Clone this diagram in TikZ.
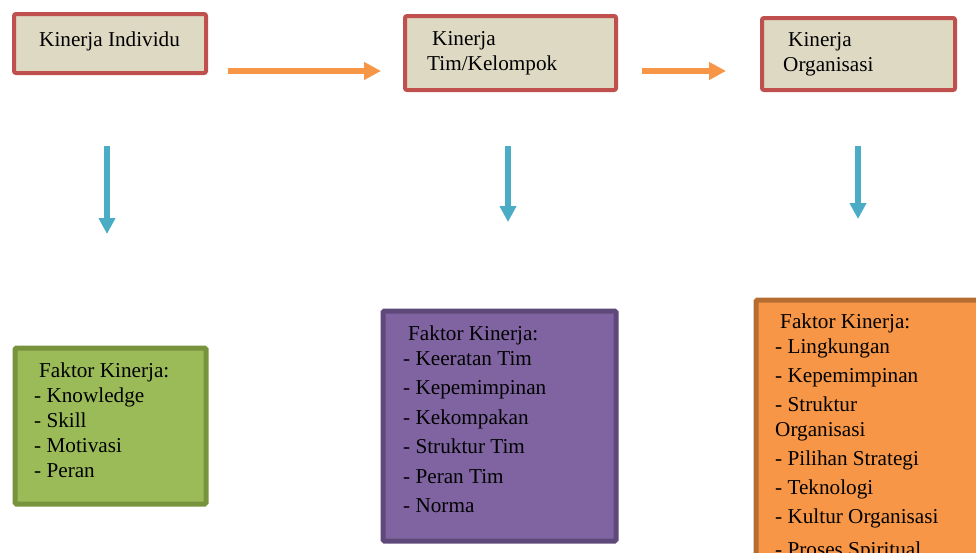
\documentclass[tikz,border=0pt]{standalone}
\usepackage{fontspec}
\setmainfont{Liberation Serif}
\usetikzlibrary{arrows.meta,positioning}

\definecolor{kotakisi}{HTML}{DDD9C3}
\definecolor{kotakgaris}{HTML}{C0504D}
\definecolor{hijau}{HTML}{9BBB59}
\definecolor{hijaugaris}{HTML}{77933C}
\definecolor{ungu}{HTML}{8064A2}
\definecolor{ungugaris}{HTML}{5F497A}
\definecolor{jingga}{HTML}{F79646}
\definecolor{jinggagaris}{HTML}{B66D31}
\definecolor{biru}{HTML}{4BACC6}

\begin{document}
\begin{tikzpicture}[x=1pt,y=-1pt,
    kinerja/.style={draw=kotakgaris,fill=kotakisi,line width=4pt,rounded corners=2pt,anchor=north west,inner sep=0pt},
    faktor/.style={line width=5pt,rounded corners=1.5pt,anchor=north west,inner sep=0pt},
    teks/.style={anchor=base west,inner sep=0pt,align=left,font=\fontsize{21.2}{25}\selectfont},
    panahj/.style={jingga,line width=6pt,-{Triangle[length=17pt,width=17pt]}},
    panahb/.style={biru,line width=6pt,-{Triangle[length=16pt,width=16pt]}}]
    \useasboundingbox (0,0) rectangle (976,552);
    \clip (0,0) rectangle (976,552);

    % Kotak kinerja
    \node[kinerja,minimum width=192pt,minimum height=59pt] (kind) at (12,12) {};
    \node[kinerja,minimum width=211pt,minimum height=74pt] (ktim) at (403,14) {};
    \node[kinerja,minimum width=193pt,minimum height=72pt] (korg) at (760,16) {};

    % teks: base = baris terakhir
    \node[teks] (tind) at (39,46) {Kinerja Individu};
    \node[teks] (ttim) at (427,70) {\hspace*{5pt}Kinerja\\Tim/Kelompok};
    \node[teks] (torg) at (783,71) {\hspace*{5pt}Kinerja\\Organisasi};

    % Panah antar kinerja
    \coordinate (j1a) at (228,71);
    \coordinate (j1b) at (381,71);
    \coordinate (j2a) at (642,71);
    \coordinate (j2b) at (726,71);
    \draw[panahj] (j1a) -- (j1b);
    \draw[panahj] (j2a) -- (j2b);

    % Panah ke faktor
    \foreach \n/\x/\y in {1/107/234,2/508/222,3/858/219} {
        \coordinate (b\n a) at (\x,146);
        \coordinate (b\n b) at (\x,\y);
        \draw[panahb] (b\n a) -- (b\n b);
    }

    % Kotak faktor
    \node[faktor,draw=hijaugaris,fill=hijau,minimum width=191pt,minimum height=156pt] (find) at (12.5,345.5) {};
    \node[faktor,draw=ungugaris,fill=ungu,minimum width=233pt,minimum height=230pt] (ftim) at (380.5,308.5) {};
    \node[faktor,draw=jinggagaris,fill=jingga,minimum width=260pt,minimum height=300pt] (forg) at (753.5,297.5) {};

    \node[teks] (lind) at (34,477) {\hspace*{5pt}Faktor Kinerja:\\- Knowledge\\- Skill\\- Motivasi\\- Peran};
    \node[teks] (ltim) at (403,512.5) {\hspace*{5pt}Faktor Kinerja:\\- Keeratan Tim\\[4.5pt]- Kepemimpinan\\[4.5pt]- Kekompakan\\[4.5pt]- Struktur Tim\\[4.5pt]- Peran Tim\\[4.5pt]- Norma};
    \node[teks] (lorg) at (775,556) {\hspace*{5pt}Faktor Kinerja:\\- Lingkungan\\[4pt]- Kepemimpinan\\[4pt]- Struktur\\Organisasi\\[4pt]- Pilihan Strategi\\[4pt]- Teknologi\\[4pt]- Kultur Organisasi\\[8pt]- Proses Spiritual};
\end{tikzpicture}
\end{document}
